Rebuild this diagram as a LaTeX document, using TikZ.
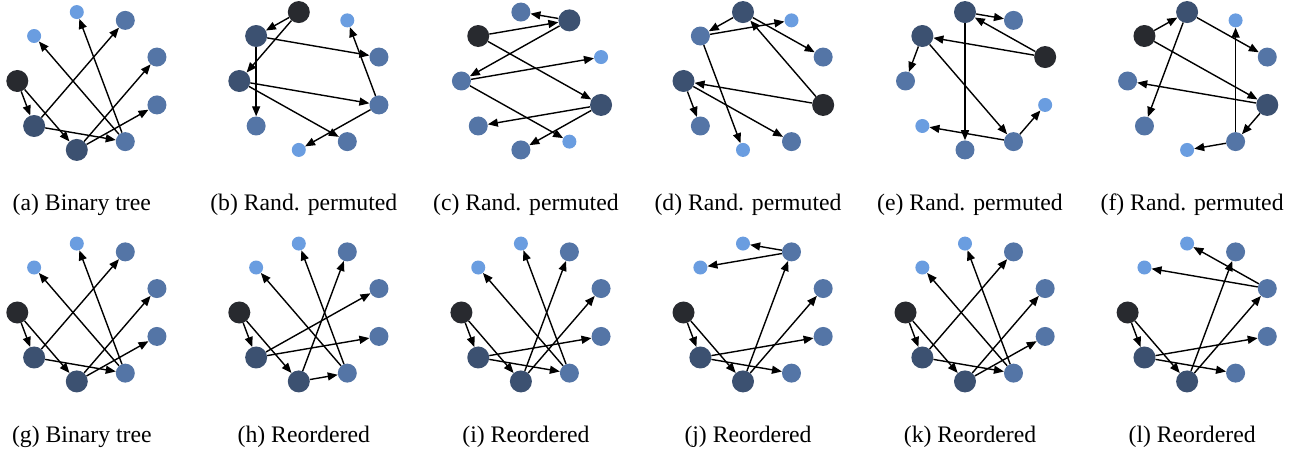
\documentclass[tikz,border=0pt]{standalone}
\usepackage{fontspec}
\setmainfont{Liberation Serif}
\usetikzlibrary{arrows.meta}
\definecolor{cRoot}{HTML}{282A2F}
\definecolor{cOne}{HTML}{3C5171}
\definecolor{cTwo}{HTML}{5475A6}
\definecolor{cThree}{HTML}{6A9DE0}
\tikzset{
  lv0/.style={circle,fill=cRoot,minimum size=22pt,inner sep=0pt},
  lv1/.style={circle,fill=cOne,minimum size=22pt,inner sep=0pt},
  lv2/.style={circle,fill=cTwo,minimum size=19pt,inner sep=0pt},
  lv3/.style={circle,fill=cThree,minimum size=14pt,inner sep=0pt},
  edge/.style={line width=1.4pt,-{Triangle[length=10pt,width=8pt]}},
  caption/.style={font=\fontsize{23.7}{27}\selectfont,inner sep=0pt}
}
\newcommand\drawpanel[6]{%
  \foreach \k/\lv in {#4} {
    \node[lv\lv] (#1\k) at ({#2+72*cos(180+40*\k)},{#3-70*sin(180+40*\k)}) {};
  }
  \foreach \s/\t in {#5} {
    \draw[edge] (#1\s) -- (#1\t);
  }
  \node[caption] (#1cap) at ({#2-7.5},{#3+124}) {#6};
}
\begin{document}
\begin{tikzpicture}[x=1pt,y=-1pt]
\useasboundingbox (0,0) rectangle (1301,454);
% row 1
\drawpanel{a}{89.3}{81}{0/0,1/1,2/1,3/2,4/2,5/2,6/2,7/3,8/3}{0/1,0/2,1/6,1/3,2/5,2/4,3/7,3/8}{(a) Binary tree}
\drawpanel{b}{311.3}{81}{7/0,8/1,0/1,1/2,5/2,4/2,3/2,6/3,2/3}{7/8,7/0,8/1,8/5,0/4,0/3,4/6,4/2}{(b) Rand. permuted}
\drawpanel{c}{533.4}{81}{8/0,6/1,4/1,7/2,0/2,1/2,2/2,5/3,3/3}{8/6,8/4,6/7,6/0,4/1,4/2,0/5,0/3}{(c) Rand. permuted}
\drawpanel{d}{755.5}{81}{4/0,0/1,7/1,8/2,5/2,1/2,3/2,6/3,2/3}{4/0,4/7,7/8,7/5,0/1,0/3,8/6,8/2}{(d) Rand. permuted}
\drawpanel{e}{977.5}{81}{5/0,7/1,8/1,6/2,2/2,0/2,3/2,4/3,1/3}{5/7,5/8,7/6,7/2,8/0,8/3,3/4,3/1}{(e) Rand. permuted}
\drawpanel{f}{1199.6}{81}{8/0,7/1,4/1,5/2,1/2,0/2,3/2,6/3,2/3}{8/7,8/4,7/5,7/1,4/0,4/3,3/6,3/2}{(f) Rand. permuted}
% row 2
\drawpanel{g}{89.3}{312.5}{0/0,1/1,2/1,3/2,4/2,5/2,6/2,7/3,8/3}{0/1,0/2,1/6,1/3,2/5,2/4,3/7,3/8}{(g) Binary tree}
\drawpanel{h}{311.3}{312.5}{0/0,1/1,2/1,3/2,4/2,5/2,6/2,7/3,8/3}{0/1,0/2,1/5,1/4,2/3,2/6,3/7,3/8}{(h) Reordered}
\drawpanel{i}{533.4}{312.5}{0/0,1/1,2/1,3/2,4/2,5/2,6/2,7/3,8/3}{0/1,0/2,1/4,1/3,2/6,2/5,3/7,3/8}{(i) Reordered}
\drawpanel{j}{755.5}{312.5}{0/0,1/1,2/1,3/2,4/2,5/2,6/2,7/3,8/3}{0/1,0/2,1/4,1/3,2/6,2/5,6/7,6/8}{(j) Reordered}
\drawpanel{k}{977.5}{312.5}{0/0,1/1,2/1,3/2,4/2,5/2,6/2,7/3,8/3}{0/1,0/2,1/6,1/3,2/5,2/4,3/7,3/8}{(k) Reordered}
\drawpanel{l}{1199.6}{312.5}{0/0,1/1,2/1,3/2,4/2,5/2,6/2,7/3,8/3}{0/1,0/2,1/4,1/3,2/6,2/5,5/7,5/8}{(l) Reordered}
\end{tikzpicture}
\end{document}
